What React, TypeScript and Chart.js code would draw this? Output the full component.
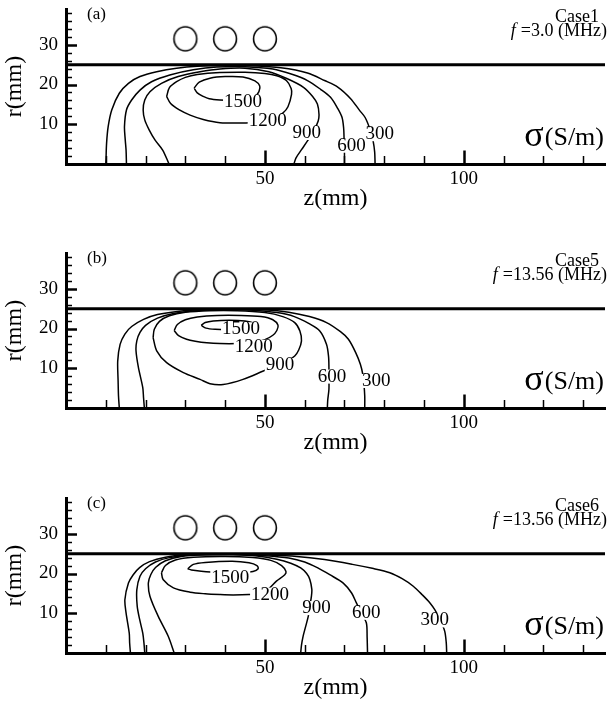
import React, { useEffect, useRef } from 'react';
import { Chart, registerables } from 'chart.js';

Chart.register(...registerables);

type P = [number, number];
type Tag = [number, number, string];

const SERIF = '"Liberation Serif", "Times New Roman", serif';

// axes
const zMin = 0;
const zMax = 135.5;
const rMin = 0;
const rMax = 39;
const zTicks = [10, 20, 30, 40, 50, 60, 70, 80, 90, 100, 110, 120, 130];
const zLabels = [50, 100];
const rTicks = [2, 4, 6, 8, 10, 12, 14, 16, 18, 20, 22, 24, 26, 28, 30, 32, 34, 36, 38];
const rLabels = [10, 20, 30];

// coil and wall
const coilZ = [30, 40, 50];
const coilR = 31.5;
const wallR = 25;

// ---------- Case1 (a) ----------
const a300: P[] = [[10, 0], [10.05, 1], [10.2, 5.2], [10.6, 9.4], [11.5, 13.6], [13.4, 17.8], [15.7, 20.3], [18.6, 22], [22.8, 23.2], [27.8, 24.1], [33, 24.6], [40, 24.8], [47, 24.7], [54, 24.2], [60.7, 22.9], [65, 21], [68.4, 19.3], [71.5, 16.5], [73.8, 13.5], [75.2, 11.7], [76.5, 8.5], [77.2, 5.8], [77.6, 3], [77.7, 0]];
const a600: P[] = [[15.2, 0], [15.1, 3.5], [14.9, 6], [14.7, 9.4], [15.2, 13.6], [16.5, 16.1], [18.6, 18.6], [21.5, 20.7], [26.1, 22.4], [32, 23.7], [37.9, 24.4], [45, 24.5], [52, 23.9], [57, 22.5], [60.7, 21], [64, 18.8], [66.5, 16.8], [68.3, 14], [69.4, 11.7], [69.8, 9], [69.9, 6.6], [70, 3.5], [70, 0]];
const a900: P[] = [[25.9, 0], [24.3, 3.5], [22.4, 6], [20.9, 8.6], [19.8, 11.1], [19.4, 13.6], [19.8, 16.1], [21.1, 18.2], [24, 20.3], [28.2, 22], [33.7, 23.2], [38.7, 23.9], [45, 24.1], [51, 23.2], [55.5, 21.5], [59.7, 19.3], [62, 17], [63.2, 15.1], [63.6, 12.5], [63.4, 10.8], [62.5, 8.8], [61.5, 7.2], [60.7, 5.8], [59.2, 3.6], [57.8, 1.5], [57.3, 0]];
const a1200: P[] = [[25.3, 17], [26, 19.2], [27.8, 20.7], [30, 21.8], [33, 22.5], [38.7, 23], [45, 23.1], [50, 22.8], [53, 22.2], [55.4, 21], [56.6, 19], [56.7, 17.5], [55.8, 14.4], [54.5, 12.8], [52, 11.3], [48, 10.5], [44, 10.3], [38.7, 10.4], [34.5, 11.2], [31.2, 12.3], [28.5, 13.6], [26.3, 15.2], [25.3, 17]];
const a1500: P[] = [[32.2, 19.1], [33.5, 20.6], [36.2, 21.6], [40, 22], [44.5, 21.9], [47.5, 20.9], [48.7, 19.6], [48.5, 18.2], [47.5, 17], [45, 16.2], [42, 16], [38.7, 16.1], [36, 16.4], [34.5, 17], [33, 17.9], [32.2, 19.1]];
const aTags: Tag[] = [[78.9, 7.5, '300'], [71.8, 4.6, '600'], [60.5, 7.8, '900'], [50.7, 10.8, '1200'], [44.5, 15.7, '1500']];

// ---------- Case5 (b) ----------
const b300: P[] = [[13.4, 0], [13.2, 3], [13.1, 6.8], [13, 11.8], [13.6, 16], [14.8, 18.6], [16.5, 20.5], [19.5, 22.3], [23, 23.5], [28, 24.3], [35, 24.8], [42, 24.9], [50, 24.7], [56, 24.1], [61.2, 23], [65.5, 21.5], [69, 19.2], [71, 17.3], [72.8, 14], [74, 11], [74.6, 8.5], [74.9, 6], [75.1, 3], [75.1, 0]];
const b600: P[] = [[19.7, 0], [19.5, 2.5], [19.3, 5.1], [18.2, 10.2], [17.6, 14.4], [17.8, 16.9], [18.6, 19], [20, 20.8], [23, 22.6], [27, 23.8], [33, 24.5], [40, 24.8], [47, 24.6], [53, 24], [57.4, 23], [61, 21.3], [63.8, 19.4], [65.5, 16], [66, 13], [66.1, 10.2], [66.1, 7.5], [66.1, 4.7], [65.8, 2], [65.7, 0]];
const b900: P[] = [[21.9, 17.7], [22.2, 19.8], [23.5, 21.8], [26, 23.2], [30, 24.1], [36, 24.5], [43, 24.5], [50, 24], [54.5, 23], [57.5, 21.5], [58.8, 19.4], [59.2, 16.9], [58.5, 14.6], [57.5, 13.1], [55.5, 11.8], [52.5, 10.5], [49.6, 9.3], [44.5, 7.2], [39.5, 5.9], [36.2, 6.1], [33.7, 7.2], [29.5, 8.9], [25.3, 11.4], [22.8, 14.4], [21.9, 17.7]];
const b1200: P[] = [[27.2, 19.5], [28, 21], [30, 22.2], [33, 22.9], [38, 23.3], [44, 23.3], [49, 23], [52, 22.2], [53.3, 20.8], [53, 19.5], [52, 18.3], [50, 17.2], [47, 16.5], [43, 16.2], [38.7, 16.2], [35.4, 16.4], [32.5, 16.8], [30.3, 17.3], [28.3, 18.2], [27.2, 19.5]];
const b1500: P[] = [[34, 20.8], [35, 21.5], [37, 21.9], [41, 22.1], [45, 21.9], [47.5, 21.3], [48.3, 20.6], [47.5, 20], [45, 19.7], [41, 19.7], [37.5, 19.8], [35.2, 20.1], [34, 20.8]];
const bTags: Tag[] = [[78, 6.8, '300'], [66.9, 7.9, '600'], [53.8, 10.8, '900'], [47.2, 15.4, '1200'], [44, 19.8, '1500']];

// ---------- Case6 (c) ----------
const c300: P[] = [[16.2, 0], [16, 2.5], [15.9, 5], [15.1, 10.1], [14.8, 13.4], [15.7, 17.6], [16.9, 19.7], [18.5, 21.5], [21, 23], [25, 24.1], [30, 24.7], [36, 24.9], [43, 24.9], [50, 24.7], [58, 24.3], [65, 23.5], [72, 22.3], [77, 21.3], [81.4, 20.2], [84.5, 18.7], [87.3, 16.8], [89.6, 14.6], [91.5, 12.6], [92.7, 10.9], [94, 8.5], [95.2, 5.5], [95.6, 2.5], [95.7, 0]];
const c600: P[] = [[19.8, 0], [19.6, 2.5], [19.3, 5], [18.5, 8.5], [17.9, 11.8], [17.8, 15.9], [18.6, 19.3], [20, 21.2], [22.5, 22.9], [26, 24], [31, 24.6], [37, 24.8], [44, 24.8], [50, 24.5], [56, 23.9], [60, 22.9], [63.3, 21.4], [66.3, 19.7], [69.7, 17.6], [71.8, 15.1], [73, 12.6], [74.2, 10], [75.5, 7.6], [75.7, 4], [75.8, 0]];
const c900: P[] = [[27.2, 0], [25.7, 4.2], [23.2, 9.2], [21.1, 14.3], [20.7, 17.6], [21.3, 19.7], [22.5, 21.5], [25, 23.2], [29, 24.3], [35, 24.7], [42, 24.7], [48, 24.4], [53, 23.6], [56.5, 22.6], [59, 21.4], [60.5, 20], [61.3, 18.5], [61.8, 16], [61.7, 14.3], [61.3, 11.8], [60.9, 9.2], [60.2, 6.5], [59.6, 4.2], [59.2, 2], [59, 0]];
const c1200: P[] = [[24, 20.2], [25, 22], [27.5, 23.4], [32, 24.1], [40, 24.3], [47, 24], [51.5, 23.3], [54.2, 22], [55.3, 20.5], [55, 19.7], [52.9, 18.1], [51, 16.2], [48.5, 15], [46, 14.7], [42, 14.6], [38.7, 14.7], [35, 14.9], [31.2, 15.3], [27, 16.4], [24.4, 18.5], [24, 20.2]];
const c1500: P[] = [[30.6, 21.2], [32, 22.3], [35, 22.8], [41.8, 23.1], [46, 22.7], [48, 22], [48.3, 21.2], [47, 20.5], [44, 20.2], [38, 20.3], [34, 20.6], [31.5, 20.9], [30.6, 21.2]];
const cTags: Tag[] = [[92.7, 8.2, '300'], [75.5, 10.1, '600'], [63, 11.3, '900'], [51.3, 14.7, '1200'], [41.3, 18.9, '1500']];

interface PanelDef {
  tag: string;
  caseName: string;
  freq: string;
  lines: P[][];
  tags: Tag[];
  top: number;
}

const panels: PanelDef[] = [
  { tag: '(a)', caseName: 'Case1', freq: '=3.0 (MHz)', lines: [a300, a600, a900, a1200, a1500], tags: aTags, top: 0 },
  { tag: '(b)', caseName: 'Case5', freq: '=13.56 (MHz)', lines: [b300, b600, b900, b1200, b1500], tags: bTags, top: 244 },
  { tag: '(c)', caseName: 'Case6', freq: '=13.56 (MHz)', lines: [c300, c600, c900, c1200, c1500], tags: cTags, top: 489 },
];

const W = 607;
const H = 219;

function makeCoilGlyph(): HTMLCanvasElement {
  const c = document.createElement('canvas');
  c.width = 28;
  c.height = 28;
  const g = c.getContext('2d')!;
  g.strokeStyle = '#000';
  g.lineWidth = 1.6;
  g.beginPath();
  g.ellipse(14, 14, 11.4, 12, 0, 0, Math.PI * 2);
  g.stroke();
  return c;
}

function makeDeco(p: PanelDef) {
  return {
    id: 'deco',
    afterDatasetsDraw(chart: any) {
      const { ctx } = chart;
      const xs = chart.scales.x;
      const ys = chart.scales.y;
      ctx.save();
      ctx.font = `19px ${SERIF}`;
      ctx.textAlign = 'center';
      ctx.textBaseline = 'middle';
      for (const [z, r, t] of p.tags) {
        const px = xs.getPixelForValue(z);
        const py = ys.getPixelForValue(r);
        const w = ctx.measureText(t).width;
        ctx.fillStyle = '#fff';
        ctx.fillRect(px - w / 2 - 1, py - 7, w + 2, 14);
        ctx.fillStyle = '#000';
        ctx.fillText(t, px, py);
      }
      ctx.restore();
    },
    afterDraw(chart: any) {
      const { ctx, chartArea } = chart;
      const xs = chart.scales.x;
      const ys = chart.scales.y;
      ctx.save();
      ctx.strokeStyle = '#000';
      // x ticks (inside, upward)
      for (const v of zTicks) {
        const major = zLabels.includes(v);
        const px = Math.round(xs.getPixelForValue(v)) + 0.5;
        ctx.lineWidth = major ? 2.5 : 1.5;
        ctx.beginPath();
        ctx.moveTo(px, chartArea.bottom);
        ctx.lineTo(px, chartArea.bottom - (major ? 13.5 : 8));
        ctx.stroke();
      }
      // r ticks (inside, rightward)
      for (const v of rTicks) {
        const major = rLabels.includes(v);
        const py = Math.round(ys.getPixelForValue(v)) + 0.5;
        ctx.lineWidth = major ? 2.5 : 1.5;
        ctx.beginPath();
        ctx.moveTo(chartArea.left, py);
        ctx.lineTo(chartArea.left + (major ? 11 : 6), py);
        ctx.stroke();
      }
      ctx.fillStyle = '#000';
      ctx.textBaseline = 'alphabetic';
      // panel tag
      ctx.font = `17px ${SERIF}`;
      ctx.textAlign = 'left';
      ctx.fillText(p.tag, 87, 19);
      // case name
      ctx.font = `18px ${SERIF}`;
      ctx.textAlign = 'right';
      ctx.fillText(p.caseName, 599, 22);
      // frequency
      ctx.font = `18px ${SERIF}`;
      const fw = ctx.measureText(p.freq).width;
      ctx.fillText(p.freq, 607, 36);
      ctx.font = `italic 18px ${SERIF}`;
      ctx.fillText('f', 607 - fw - 5, 36);
      // sigma (S/m)
      ctx.font = `26px ${SERIF}`;
      const sw = ctx.measureText('(S/m)').width;
      ctx.fillText('(S/m)', 604, 145);
      ctx.font = `36px ${SERIF}`;
      ctx.fillText('σ', 604 - sw - 1, 146);
      ctx.restore();
    },
  };
}

function Panel({ p }: { p: PanelDef }) {
  const ref = useRef<HTMLCanvasElement>(null);
  useEffect(() => {
    if (!ref.current) return;
    const datasets: any[] = [];
    datasets.push({
      data: [{ x: zMin, y: wallR }, { x: zMax, y: wallR }],
      showLine: true,
      borderColor: '#000',
      borderWidth: 3,
      pointRadius: 0,
      tension: 0,
    });
    datasets.push({
      data: coilZ.map((z) => ({ x: z, y: coilR })),
      showLine: false,
      pointRadius: 12,
      pointStyle: makeCoilGlyph(),
    });
    for (const line of p.lines) {
      datasets.push({
        data: line.map(([z, r]) => ({ x: z, y: r })),
        showLine: true,
        borderColor: '#000',
        borderWidth: 1.5,
        pointRadius: 0,
        tension: 0.3,
      });
    }
    const chart = new Chart(ref.current, {
      type: 'scatter',
      data: { datasets },
      options: {
        animation: false,
        responsive: false,
        events: [],
        layout: { autoPadding: false, padding: { top: 9, right: 2, left: 0, bottom: 0 } },
        plugins: { legend: { display: false }, tooltip: { enabled: false } },
        scales: {
          x: {
            type: 'linear',
            min: zMin,
            max: zMax,
            afterBuildTicks: (s: any) => {
              s.ticks = zTicks.map((v) => ({ value: v }));
            },
            afterFit: (s: any) => {
              s.height = H - 164;
              s.paddingLeft = 0;
              s.paddingRight = 0;
            },
            ticks: {
              callback: (v: any) => (zLabels.includes(Number(v)) ? String(v) : ''),
              font: { family: SERIF, size: 19 },
              color: '#000',
              padding: 4,
              maxRotation: 0,
              autoSkip: false,
            },
            grid: { display: false, drawTicks: false },
            border: { display: true, width: 3, color: '#000' },
            title: {
              display: true,
              text: 'z(mm)',
              font: { family: SERIF, size: 24 },
              color: '#000',
              padding: { top: 0, bottom: 5.6 },
            },
          },
          y: {
            type: 'linear',
            min: rMin,
            max: rMax,
            afterBuildTicks: (s: any) => {
              s.ticks = rTicks.map((v) => ({ value: v }));
            },
            afterFit: (s: any) => {
              s.width = 66;
              s.paddingTop = 0;
              s.paddingBottom = 0;
            },
            ticks: {
              callback: (v: any) => (rLabels.includes(Number(v)) ? String(v) : ''),
              font: { family: SERIF, size: 19 },
              color: '#000',
              padding: 8,
              autoSkip: false,
            },
            grid: { display: false, drawTicks: false },
            border: { display: true, width: 3, color: '#000' },
            title: {
              display: true,
              text: 'r(mm)',
              font: { family: SERIF, size: 24 },
              color: '#000',
              padding: { top: 0, bottom: 0 },
            },
          },
        },
      },
      plugins: [makeDeco(p)],
    } as any);
    return () => chart.destroy();
  }, [p]);
  return (
    <canvas
      ref={ref}
      width={W}
      height={H}
      style={{ position: 'absolute', left: 0, top: p.top, width: W, height: H }}
    />
  );
}

export default function App() {
  return (
    <div style={{ position: 'absolute', left: 0, top: 0, width: 607, height: 708, background: '#fff' }}>
      {panels.map((p) => (
        <Panel key={p.tag} p={p} />
      ))}
    </div>
  );
}
